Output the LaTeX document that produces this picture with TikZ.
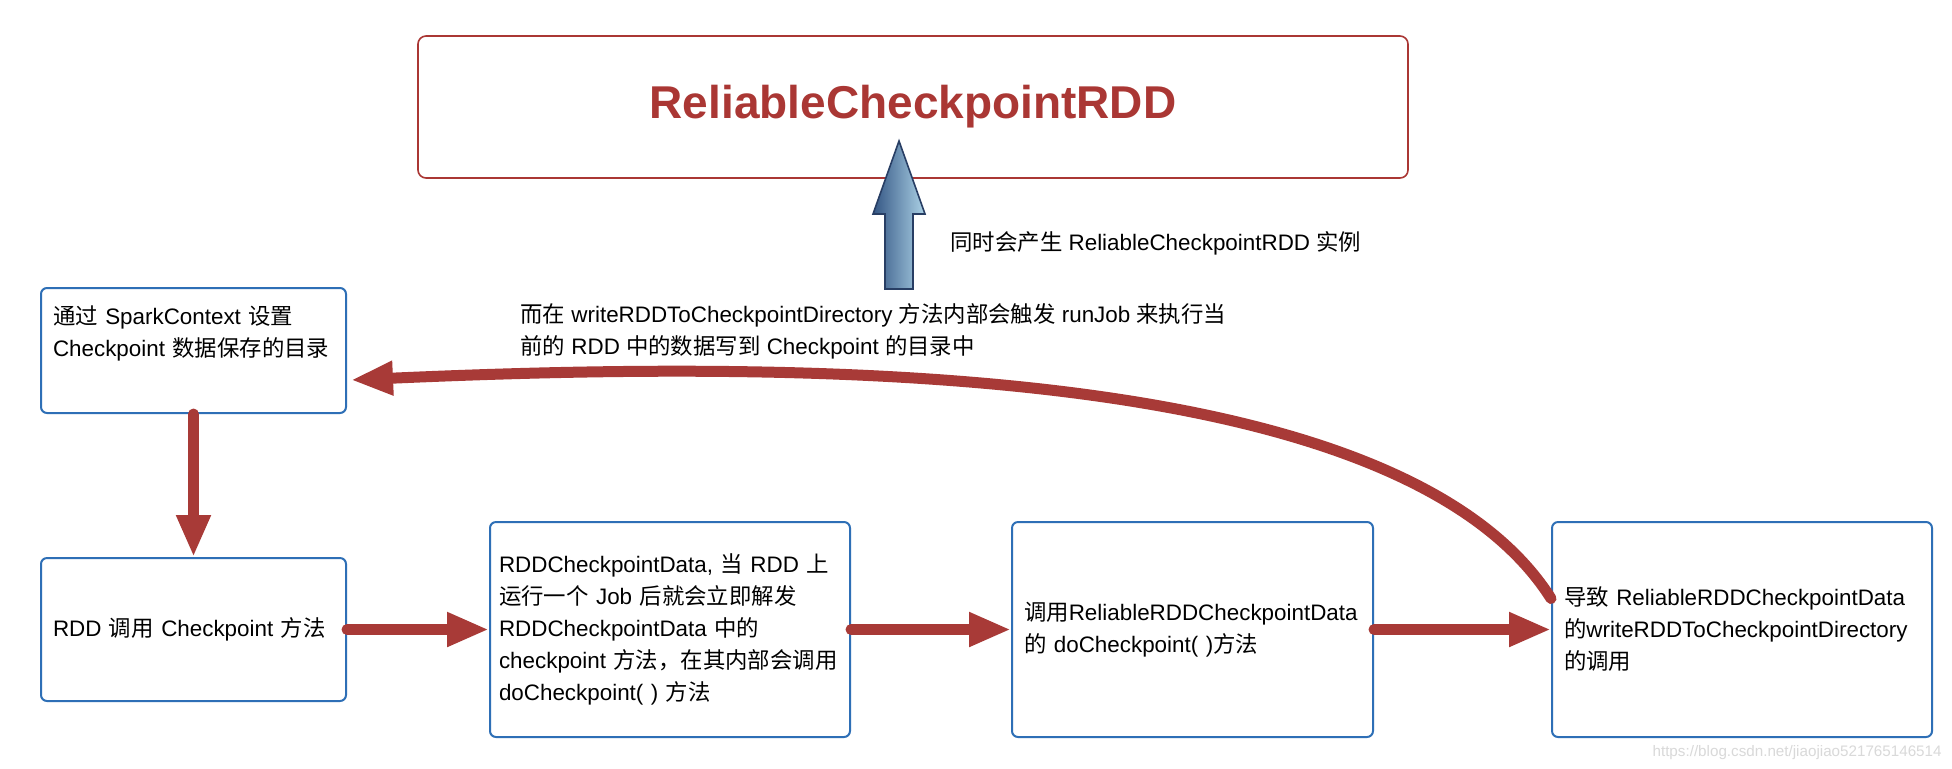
\documentclass[tikz,border=0pt]{standalone}
\usepackage{fontspec}
\setmainfont{Liberation Sans}
\newfontfamily\cjkfont{Noto Sans CJK SC}
\usepackage{xcolor}
\usetikzlibrary{arrows.meta,positioning}

% switch to the CJK font for Chinese characters
\XeTeXinterchartokenstate=1
\newXeTeXintercharclass\cjkclass
\newcount\cjkcode
\cjkcode="3000
\loop\ifnum\cjkcode<"A000
  \XeTeXcharclass\cjkcode=\cjkclass
  \advance\cjkcode by 1
\repeat
\cjkcode="FF00
\loop\ifnum\cjkcode<"FFF0
  \XeTeXcharclass\cjkcode=\cjkclass
  \advance\cjkcode by 1
\repeat
\XeTeXinterchartoks 0 \cjkclass = {\cjkfont}
\XeTeXinterchartoks 4095 \cjkclass = {\cjkfont}
\XeTeXinterchartoks \cjkclass 0 = {\rmfamily}
\XeTeXinterchartoks \cjkclass 4095 = {\rmfamily}

\definecolor{arrowred}{RGB}{168,58,55}
\definecolor{titlered}{RGB}{170,55,52}
\definecolor{boxblue}{RGB}{46,111,182}
\definecolor{steeldark}{RGB}{52,86,132}
\definecolor{steellight}{RGB}{172,210,230}
\definecolor{steelline}{RGB}{40,62,100}

\newcommand{\boxfont}{\fontsize{11.2pt}{16pt}\selectfont}

\begin{document}
\begin{tikzpicture}[x=0.5pt, y=-0.5pt,
    block/.style={draw=boxblue, line width=1pt, rounded corners=3pt, align=left, inner xsep=6pt, font=\boxfont},
    note/.style={align=left, inner sep=0pt, font=\boxfont},
    arr/.style={-{Triangle[length=21pt, width=16pt]}, line width=5.5pt, draw=arrowred, line cap=round}
  ]
    \fill[white] (0,0) rectangle (1952,768);
    \useasboundingbox (0,0) rectangle (1952,768);

    \node[draw=titlered, line width=0.8pt, rounded corners=4pt, minimum width=495pt, minimum height=71pt,
          font=\fontsize{23pt}{27pt}\selectfont\bfseries, text=titlered] (rcrdd) at (913,107) {ReliableCheckpointRDD};

    % the shaded arrow into the top box
    \draw[steelline, line width=0.8pt, left color=steeldark, right color=steellight]
      (885,289) -- (885,214) -- (873,214) -- (899,141) -- (925,214) -- (913,214) -- (913,289) -- cycle;
    \node[note, anchor=west] (instnote) at (950,243) {同时会产生 ReliableCheckpointRDD 实例};

    \node[block, text width=140.5pt, minimum height=62.5pt, text height=10pt, text depth=36.5pt] (ctxbox) at (193.5,350.5)
      {通过 SparkContext 设置\\Checkpoint 数据保存的目录};
    \node[block, text width=140.5pt, minimum height=71.5pt] (callbox) at (193.5,629.5) {RDD 调用 Checkpoint 方法};
    \node[block, text width=171pt, inner xsep=4.5pt, minimum height=107.5pt] (databox) at (670,629.5)
      {RDDCheckpointData, 当 RDD 上\\运行一个 Job 后就会立即解发\\RDDCheckpointData 中的\\checkpoint 方法，在其内部会调用\\doCheckpoint( ) 方法};
    \node[block, text width=168.5pt, minimum height=107.5pt] (dobox) at (1192.5,629.5)
      {调用ReliableRDDCheckpointData\\的 doCheckpoint( )方法};
    \node[block, text width=178pt, minimum height=107.5pt] (writebox) at (1742,629.5)
      {导致 ReliableRDDCheckpointData\\的writeRDDToCheckpointDirectory\\的调用};

    \node[note, anchor=west] (runnote) at (520,331)
      {而在 writeRDDToCheckpointDirectory 方法内部会触发 runJob 来执行当\\前的 RDD 中的数据写到 Checkpoint 的目录中};

    \draw[arr] (ctxbox) -- (callbox);
    \draw[arr] (callbox) -- (databox);
    \draw[arr] (databox) -- (dobox);
    \draw[arr] (dobox) -- (writebox);
    \draw[arr] ([yshift=15.5pt]writebox.west) .. controls (1400,360) and (800,360) .. ([xshift=2pt,yshift=-14.75pt]ctxbox.east);

    \node[anchor=east, inner sep=0pt, text=gray!30, font=\fontsize{7.6pt}{9pt}\selectfont] (wmark) at (1942,753)
      {https://blog.csdn.net/jiaojiao521765146514};
  \end{tikzpicture}
\end{document}
